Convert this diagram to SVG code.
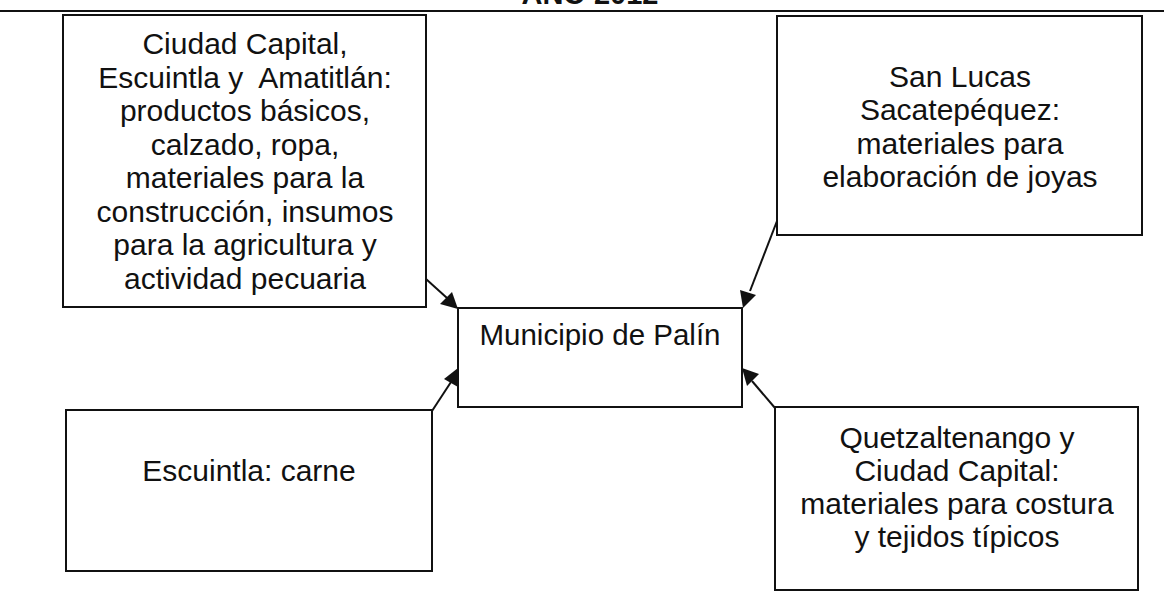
<svg xmlns="http://www.w3.org/2000/svg" width="1164" height="596" viewBox="0 0 1164 596">
  <style>
    .box { fill: #ffffff; stroke: #111111; stroke-width: 2; }
    .t { font-family: "Liberation Sans", Arial, sans-serif; font-size: 30px; fill: #111111; text-anchor: middle; }
    .title { font-family: "Liberation Sans", Arial, sans-serif; font-size: 29px; font-weight: bold; fill: #111111; text-anchor: middle; }
    .conn { stroke: #111111; stroke-width: 2; fill: none; }
    .head { fill: #111111; stroke: none; }
  </style>
  <rect x="0" y="0" width="1164" height="596" fill="#ffffff"/>
  <text class="title" x="590" y="4">AÑO 2012</text>
  <line x1="0" y1="11" x2="1164" y2="11" stroke="#111111" stroke-width="2"/>

  <g id="connectors">
    <line class="conn" x1="426" y1="279" x2="447" y2="298"/>
    <path class="head" d="M458,309 L440,304 L452,292 z"/>
    <line class="conn" x1="432" y1="411" x2="451" y2="382"/>
    <path class="head" d="M458,368 L458,387 L444,379 z"/>
    <line class="conn" x1="777" y1="221" x2="750" y2="291"/>
    <path class="head" d="M743,308 L740,290 L756,295 z"/>
    <line class="conn" x1="775" y1="408" x2="752" y2="381"/>
    <path class="head" d="M742,368 L759,374 L747,386 z"/>
  </g>

  <g id="node-palin">
    <rect class="box" x="458" y="308" width="284" height="99"/>
    <text class="t" x="600" y="345" style="font-size:29.5px">Municipio de Palín</text>
  </g>

  <g id="node-capital">
    <rect class="box" x="63" y="15" width="363" height="292"/>
    <text class="t" x="245" y="54">Ciudad Capital,</text>
    <text class="t" x="245" y="87.5" xml:space="preserve">Escuintla y  Amatitlán:</text>
    <text class="t" x="245" y="121">productos básicos,</text>
    <text class="t" x="245" y="154.5">calzado, ropa,</text>
    <text class="t" x="245" y="188">materiales para la</text>
    <text class="t" x="245" y="221.5">construcción, insumos</text>
    <text class="t" x="245" y="255">para la agricultura y</text>
    <text class="t" x="245" y="288.5">actividad pecuaria</text>
  </g>

  <g id="node-sanlucas">
    <rect class="box" x="777" y="16" width="365" height="219"/>
    <text class="t" x="960" y="87">San Lucas</text>
    <text class="t" x="960" y="120">Sacatepéquez:</text>
    <text class="t" x="960" y="153.5">materiales para</text>
    <text class="t" x="960" y="186.5">elaboración de joyas</text>
  </g>

  <g id="node-escuintla">
    <rect class="box" x="66" y="410" width="366" height="161"/>
    <text class="t" x="249" y="481">Escuintla: carne</text>
  </g>

  <g id="node-quetzaltenango">
    <rect class="box" x="775" y="407" width="363" height="183"/>
    <text class="t" x="957" y="448">Quetzaltenango y</text>
    <text class="t" x="957" y="481">Ciudad Capital:</text>
    <text class="t" x="957" y="514">materiales para costura</text>
    <text class="t" x="957" y="547">y tejidos típicos</text>
  </g>
</svg>
